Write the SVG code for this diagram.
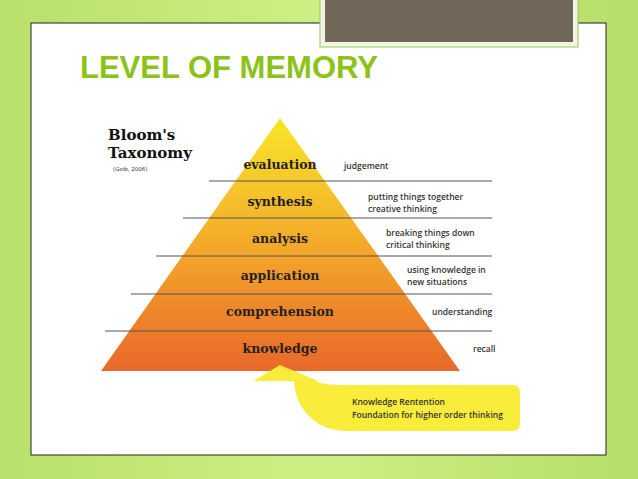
<svg xmlns="http://www.w3.org/2000/svg" width="638" height="479" viewBox="0 0 638 479">
<defs>
<linearGradient id="bg" x1="0" y1="0" x2="1" y2="0"><stop offset="0" stop-color="#b9e06a"/><stop offset="0.5" stop-color="#cdef84"/><stop offset="1" stop-color="#b6de68"/></linearGradient>
<linearGradient id="pyr" x1="0" y1="0" x2="0" y2="1"><stop offset="0" stop-color="#f8e62a"/><stop offset="0.45" stop-color="#f4b02a"/><stop offset="1" stop-color="#e9682a"/></linearGradient>
<style>
.lvl{font-family:"DejaVu Serif",serif;font-weight:bold;font-size:12.5px;fill:#222;text-anchor:middle}
.d{font-family:"Open Sans","DejaVu Sans",sans-serif;font-weight:600;font-size:8.5px;fill:#333}
.ln{stroke:#555;stroke-width:1}
</style>
</defs>
<rect width="638" height="479" fill="url(#bg)"/>
<rect x="31" y="23" width="575" height="432" fill="#fff" stroke="#222" stroke-width="1"/>
<rect x="320" y="-2" width="258" height="49" fill="#f2f5e6" stroke="#9bc45a"/>
<rect x="325" y="-2" width="248" height="44" fill="#72685a"/>
<text x="80" y="78" font-family="Liberation Sans,Arial,sans-serif" font-weight="bold" font-size="31" fill="#8cc21a">LEVEL OF MEMORY</text>
<g id="pyramid"><polygon points="280,118 101,371 460,371" fill="url(#pyr)"/></g>
<g id="lines">
<line class="ln" x1="209" y1="181" x2="492" y2="181"/>
<line class="ln" x1="183" y1="218" x2="492" y2="218"/>
<line class="ln" x1="156" y1="256" x2="492" y2="256"/>
<line class="ln" x1="131" y1="294" x2="492" y2="294"/>
<line class="ln" x1="105" y1="331" x2="492" y2="331"/>
</g>
<g id="title"><text x="108" y="140" font-family="DejaVu Serif,serif" font-weight="bold" font-size="15" fill="#111">Bloom's</text>
<text x="108" y="158" font-family="DejaVu Serif,serif" font-weight="bold" font-size="15" fill="#111">Taxonomy</text>
<text x="113" y="171" font-family="DejaVu Sans,sans-serif" font-size="5.5" fill="#333">(Geib, 2006)</text></g>
<g id="levels">
<text class="lvl" x="280" y="169">evaluation</text>
<text class="lvl" x="280" y="206">synthesis</text>
<text class="lvl" x="280" y="243">analysis</text>
<text class="lvl" x="280" y="280">application</text>
<text class="lvl" x="280" y="316">comprehension</text>
<text class="lvl" x="280" y="353">knowledge</text>
</g>
<g id="descs">
<text class="d" x="344" y="169">judgement</text>
<text class="d" x="368" y="200">putting things together</text>
<text class="d" x="368" y="212">creative thinking</text>
<text class="d" x="386" y="236">breaking things down</text>
<text class="d" x="386" y="248">critical thinking</text>
<text class="d" x="407" y="273">using knowledge in</text>
<text class="d" x="407" y="285">new situations</text>
<text class="d" x="432" y="315">understanding</text>
<text class="d" x="473" y="352">recall</text>
</g>
<g id="arrow">
<path d="M280,365 L306,381 L296,381 C300,405 315,412 340,413 L514,413 Q520,413 520,400 L520,390 L340,390 Q318,390 315,381 Z" fill="none"/>
<path d="M280,365 L306,381 L294,381 C296,412 318,430 345,431 L512,431 Q520,431 520,423 L520,392 Q520,385 512,385 L350,385 Q320,385 316,381 L318,381 Z" fill="#f9ec3a"/>
<path d="M280,365 L253,381 L306,381 Z" fill="#f9ec3a"/>
<text class="d" x="352" y="405" fill="#5a3a00">Knowledge Rentention</text>
<text class="d" x="352" y="418">Foundation for higher order thinking</text>
</g>
</svg>
